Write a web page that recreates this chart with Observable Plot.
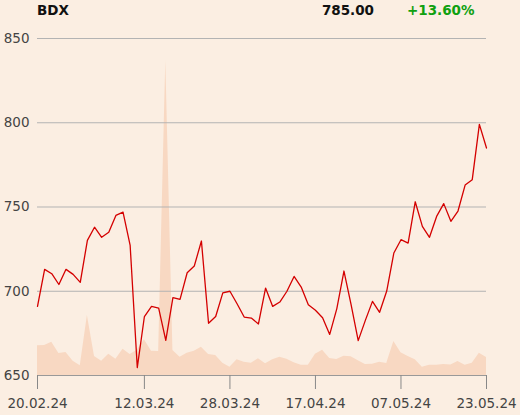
<!DOCTYPE html>
<html><head><meta charset="utf-8">
<script src="https://cdn.jsdelivr.net/npm/d3@7"></script>
<script src="https://cdn.jsdelivr.net/npm/@observablehq/plot@0.6"></script>
<style>
html,body{margin:0;padding:0;}
body{background:#fbeee2;width:520px;height:415px;overflow:hidden;font-family:"DejaVu Sans",sans-serif;}
#hdr{position:relative;height:20px;font-weight:bold;font-size:13.5px;color:#111;}
#hdr span{position:absolute;top:2px;white-space:nowrap;}
#chart svg{display:block;}
</style></head><body>
<div id="hdr"><span id="sym" style="left:37px"></span><span id="last" style="right:146px"></span><span id="chg" style="left:407px;color:#10a010"></span></div>
<div id="chart"></div>
<script>
const symbol = "BDX";
const price = [691, 713, 710.4, 704, 713, 710, 705.3, 730.2, 738, 732, 735, 745, 747, 727.2, 654.7, 685,
  691, 690, 670.9, 696.2, 695.2, 711, 715, 729.8, 681, 685, 699, 700, 692.6, 684.7, 684.1, 680.6,
  701.9, 691, 693.6, 700, 708.8, 702.5, 692, 688.7, 684.3, 674.4, 689.7, 712, 692, 670.7,
  682.7, 694, 687.5, 700.1, 722.7, 730.6, 728.6, 753.1, 738.5, 732, 744.4, 752, 741.5, 747.6,
  763, 766.2, 799, 785];
const volume = [17.6, 17.8, 19.8, 13, 13.6, 8.5, 5.8, 35.6, 11.3, 8.5, 12.6, 9.7, 15.6, 12.5, 15, 21.2,
  14.4, 14.2, 187, 14.8, 10.9, 13.2, 14.4, 16.8, 12.5, 11.9, 7.3, 4.9, 9.3, 7.9, 7.3, 9.9,
  6.9, 9.3, 10.9, 9.7, 7.5, 6.1, 6.1, 12.6, 15, 10.1, 9.5, 11.4, 11.1, 8.7,
  6.5, 6.7, 7.9, 7.1, 20.2, 13.5, 11.3, 9.3, 4.9, 6.1, 6.1, 6.5, 6.3, 8.3,
  6.1, 7.3, 13.2, 10.7];
const tickIndex = [0, 15, 27, 39, 51, 63];
const tickLabels = ["20.02.24", "12.03.24", "28.03.24", "17.04.24", "07.05.24", "23.05.24"];
const yTicks = [650, 700, 750, 800, 850];
const yBase = 650;

const data = price.map((p, i) => ({i, price: p, vol: volume[i]}));
const first = price[0], last = price[price.length - 1];
const chg = (last / first - 1) * 100;
document.getElementById("sym").textContent = symbol;
document.getElementById("last").textContent = last.toFixed(2);
document.getElementById("chg").textContent = (chg >= 0 ? "+" : "") + chg.toFixed(2) + "%";

const chart = Plot.plot({
  width: 520, height: 395,
  marginTop: 18, marginBottom: 40, marginLeft: 37, marginRight: 34,
  style: {background: "transparent", fontFamily: "DejaVu Sans, sans-serif", fontSize: "13.5px", color: "#444"},
  x: {domain: [0, price.length - 1]},
  y: {domain: [650, 850]},
  marks: [
    Plot.areaY(data, {x: "i", y1: yBase, y2: d => yBase + d.vol, fill: "#f8d8c2"}),
    Plot.gridY(yTicks.slice(1), {stroke: "#b3b3b3", strokeOpacity: 1, strokeWidth: 1}),
    Plot.ruleY([yBase], {stroke: "#999", strokeWidth: 1}),
    Plot.axisY(yTicks, {tickSize: 0, tickPadding: 8, label: null, fill: "#444"}),
    Plot.axisX(tickIndex, {tickSize: 14, tickPadding: 9, label: null, stroke: "#888",
      tickFormat: d => tickLabels[tickIndex.indexOf(d)], fill: "#444"}),
    Plot.lineY(data, {x: "i", y: "price", stroke: "#d40000", strokeWidth: 1.3})
  ]
});
document.getElementById("chart").appendChild(chart);
</script>
</body></html>
